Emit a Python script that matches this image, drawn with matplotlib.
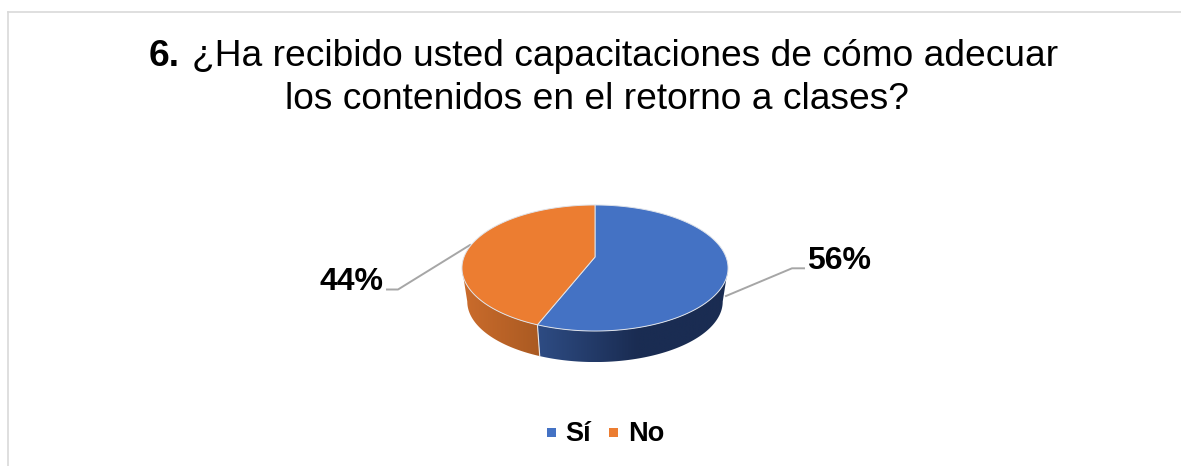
import numpy as np
import matplotlib
matplotlib.use("Agg")
import matplotlib.pyplot as plt
from matplotlib.patches import Polygon, Rectangle

plt.rcParams["font.family"] = ["Liberation Sans", "DejaVu Sans"]

# data
categories = ["Sí", "No"]
values = [56, 44]
labels = ["56%", "44%"]
colors = ["#4472C4", "#EC7D31"]
side_left = [(46, 76, 132), (203, 108, 44)]
side_right = [(26, 44, 82), (170, 90, 34)]

title_bold = "6."
title_line1 = "¿Ha recibido usted capacitaciones de cómo adecuar"
title_line2 = "los contenidos en el retorno a clases?"

# pie geometry, in pixels
CX, CY = 595, 257
RX, RY = 131, 61.1
PERSP = 0.1746      # near edge of the disc looks bigger than the far one
DEPTH = 34
BOTTOM_SCALE = 0.96


def project(angle_deg, scale=1.0, dy=0.0):
    # angle is clockwise from the top of the disc
    a = np.radians(angle_deg)
    u, v = np.sin(a), -np.cos(a)
    d = 1 - PERSP * v
    return CX + scale * RX * u / d, CY + dy + scale * RY * v / d


fig = plt.figure(figsize=(11.81, 4.66), dpi=100)
ax = fig.add_axes([0, 0, 1, 1])

# chart frame (only top and left are in the crop)
ax.plot([8, 1181], [11.5, 11.5], color="#d9d9d9", lw=1.2)
ax.plot([8, 8], [11.5, 466], color="#d9d9d9", lw=1.2)

# slice boundaries from the values
shares = np.array(values) / sum(values) * 360
edges = np.concatenate([[0], np.cumsum(shares)])

# side wall runs between the two points where the outline turns back
turn = np.degrees(np.arccos(-PERSP))
wall_ranges = [(turn, edges[1]), (edges[1], 360 - turn)]
for i, (a0, a1) in enumerate(wall_ranges):
    t = np.linspace(a0, a1, 120)
    xt, yt = project(t)
    xb, yb = project(t, BOTTOM_SCALE, DEPTH)
    pts = np.column_stack([np.r_[xt, xb[::-1]], np.r_[yt, yb[::-1]]])
    poly = Polygon(pts, closed=True, facecolor="none", edgecolor="none")
    ax.add_patch(poly)
    left, right = np.array(side_left[i]) / 255, np.array(side_right[i]) / 255
    x0, x1 = pts[:, 0].min(), pts[:, 0].max()
    mix = np.clip(np.linspace(0, 1, 256) * (1.9 if i == 0 else 1.0), 0, 1)
    grad = left + (right - left) * mix[:, None]
    im = ax.imshow(grad[None, :, :], extent=[x0, x1, pts[:, 1].max(), pts[:, 1].min()],
                   aspect="auto", zorder=2)
    im.set_clip_path(poly)

# line between the two side walls
xs0, ys0 = project(edges[1])
xs1, ys1 = project(edges[1], BOTTOM_SCALE, DEPTH)
ax.plot([xs0, xs1], [ys0, ys1], color="#e8e8e8", lw=0.8, zorder=3)

# top of the pie
for i in range(len(values)):
    t = np.linspace(edges[i], edges[i + 1], 200)
    xt, yt = project(t)
    pts = np.column_stack([np.r_[CX, xt], np.r_[CY, yt]])
    ax.add_patch(Polygon(pts, closed=True, facecolor=colors[i],
                         edgecolor="#dfe3ea", lw=0.7, zorder=4))

# leader lines
ax.plot([726, 792, 804], [296, 268.3, 268.3], color="#a6a6a6", lw=1.4, zorder=1)
ax.plot([470, 398, 387], [245, 289.5, 289.5], color="#a6a6a6", lw=1.4, zorder=1)

# data labels
ax.text(807, 269, labels[0], fontsize=23, fontweight="bold", ha="left", va="baseline")
ax.text(319, 290, labels[1], fontsize=23, fontweight="bold", ha="left", va="baseline")

# title
ax.text(149, 66, title_bold, fontsize=26.7, fontweight="bold", ha="left", va="baseline")
ax.text(192, 66, title_line1, fontsize=26.7, ha="left", va="baseline")
ax.text(285, 109, title_line2, fontsize=26.7, ha="left", va="baseline")

# legend
legend_x = [547, 609]
text_x = [565, 628]
for i, name in enumerate(categories):
    ax.add_patch(Rectangle((legend_x[i], 428), 9, 9, facecolor=colors[i], edgecolor="none"))
    ax.text(text_x[i], 441, name, fontsize=19.5, fontweight="bold", ha="left", va="baseline")

ax.set_xlim(0, 1181)
ax.set_ylim(466, 0)
ax.axis("off")
fig.savefig("out.png", dpi=100)
